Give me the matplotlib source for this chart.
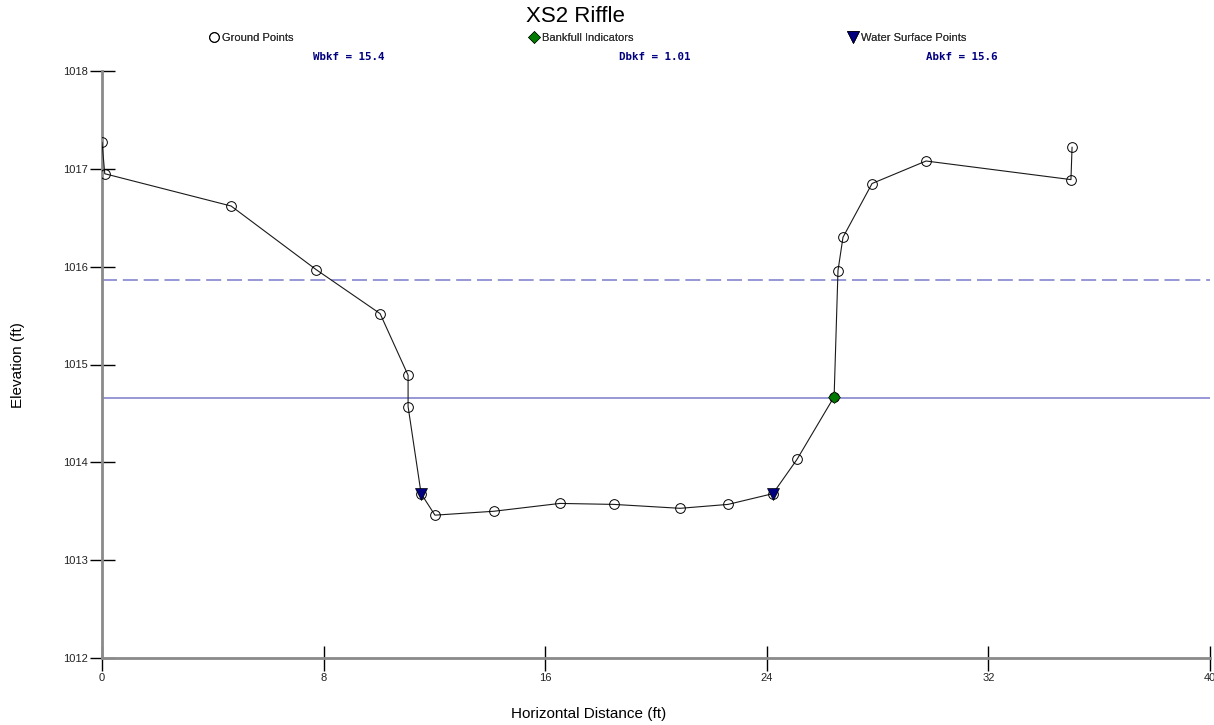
#!/usr/bin/env python3
"""Cross-section plot: XS2 Riffle ground profile with bankfull and flood-prone lines."""

import matplotlib

matplotlib.use("Agg")
import matplotlib.pyplot as plt
from matplotlib.lines import Line2D

# Survey data (station ft, elevation ft)
STATION = [0.0, 0.1, 4.66, 7.73, 10.04, 11.05, 11.05, 11.52, 12.02, 14.15,
           16.53, 18.48, 20.87, 22.6, 24.22, 25.09, 26.43, 26.57, 26.75,
           27.8, 29.75, 34.98, 35.02]
ELEVATION = [1017.27, 1016.95, 1016.62, 1015.97, 1015.52, 1014.89, 1014.57,
             1013.68, 1013.46, 1013.50, 1013.58, 1013.57, 1013.53, 1013.57,
             1013.68, 1014.03, 1014.67, 1015.96, 1016.30, 1016.85, 1017.08,
             1016.89, 1017.22]

WS_STATION = [11.52, 24.22]
WS_ELEVATION = [1013.68, 1013.68]

BKF_STATION = [26.43]
BKF_ELEVATION = [1014.67]

BANKFULL_ELEV = 1014.66
FLOODPRONE_ELEV = 1015.86

X_TICKS = [0, 8, 16, 24, 32, 40]
Y_TICKS = [1012, 1013, 1014, 1015, 1016, 1017, 1018]

STATS = [("Wbkf = 15.4", 349), ("Dbkf = 1.01", 655), ("Abkf = 15.6", 962)]

LINE_BLUE = "#8585cf"
NAVY = "#000080"
GREEN = "#007a00"
AXIS_GREY = "#8a8a8a"

W, H = 1214, 725

plt.rcParams["font.family"] = ["Liberation Sans", "DejaVu Sans"]

fig = plt.figure(figsize=(W / 100, H / 100), dpi=100)
fig.patch.set_facecolor("white")
ax = fig.add_axes([102 / W, 1 - 658 / H, (1210 - 102) / W, (658 - 71) / H])

ax.axhline(FLOODPRONE_ELEV, color=LINE_BLUE, lw=1.2, dashes=(9, 3.5))
ax.axhline(BANKFULL_ELEV, color=LINE_BLUE, lw=1.2)

ax.plot(STATION, ELEVATION, color="#1a1a1a", lw=0.8, marker="o", markersize=7,
        markerfacecolor="none", markeredgecolor="black", markeredgewidth=0.7,
        zorder=3)
ax.plot(WS_STATION, WS_ELEVATION, linestyle="none", marker="v", markersize=8,
        color=NAVY, markeredgecolor="black", markeredgewidth=0.5, zorder=4)
ax.plot(BKF_STATION, BKF_ELEVATION, linestyle="none", marker="D",
        markersize=6, color=GREEN, markeredgecolor="black",
        markeredgewidth=0.4, zorder=4)

ax.set_xlim(0, 40)
ax.set_ylim(1012, 1018)
ax.set_xticks(X_TICKS)
ax.set_yticks(Y_TICKS)
ax.set_xticklabels([str(t) for t in X_TICKS])
ax.set_yticklabels([str(t) for t in Y_TICKS])
ax.tick_params(direction="inout", length=18, width=1, color="black",
               labelsize=8, labelcolor="#222222")
ax.tick_params(axis="x", pad=2)
ax.tick_params(axis="y", pad=1)

for side in ("top", "right"):
    ax.spines[side].set_visible(False)
for side in ("left", "bottom"):
    ax.spines[side].set_color(AXIS_GREY)
    ax.spines[side].set_linewidth(2)
ax.set_facecolor("white")

fig.text(575 / W, 1 - 17 / H, "XS2 Riffle", ha="center", va="center",
         fontsize=16)

legend_items = [
    (Line2D([], [], linestyle="none", marker="o", markersize=7,
            markerfacecolor="none", markeredgecolor="black",
            markeredgewidth=0.7), "Ground Points", 209),
    (Line2D([], [], linestyle="none", marker="D", markersize=6, color=GREEN,
            markeredgecolor="black", markeredgewidth=0.4),
     "Bankfull Indicators", 529),
    (Line2D([], [], linestyle="none", marker="v", markersize=8, color=NAVY,
            markeredgecolor="black", markeredgewidth=0.5),
     "Water Surface Points", 848),
]
for handle, label, px in legend_items:
    leg = fig.legend(handles=[handle], labels=[label], loc="center left",
                     bbox_to_anchor=(px / W, 1 - 38 / H), frameon=False,
                     borderpad=0, borderaxespad=0, handlelength=0.9,
                     handletextpad=0.25, fontsize=8, labelcolor="#333333")
    fig.add_artist(leg)

for text, px in STATS:
    fig.text(px / W, 1 - 57 / H, text, ha="center", va="center",
             fontsize=7.8, fontweight="bold", color=NAVY,
             family="DejaVu Sans Mono")

fig.text(18 / W, 1 - 365 / H, "Elevation (ft)", rotation=90, ha="center",
         va="center", fontsize=11)
fig.text(589 / W, 1 - 714 / H, "Horizontal Distance (ft)", ha="center",
         va="center", fontsize=11)

fig.savefig("out.png", dpi=100, facecolor="white")
